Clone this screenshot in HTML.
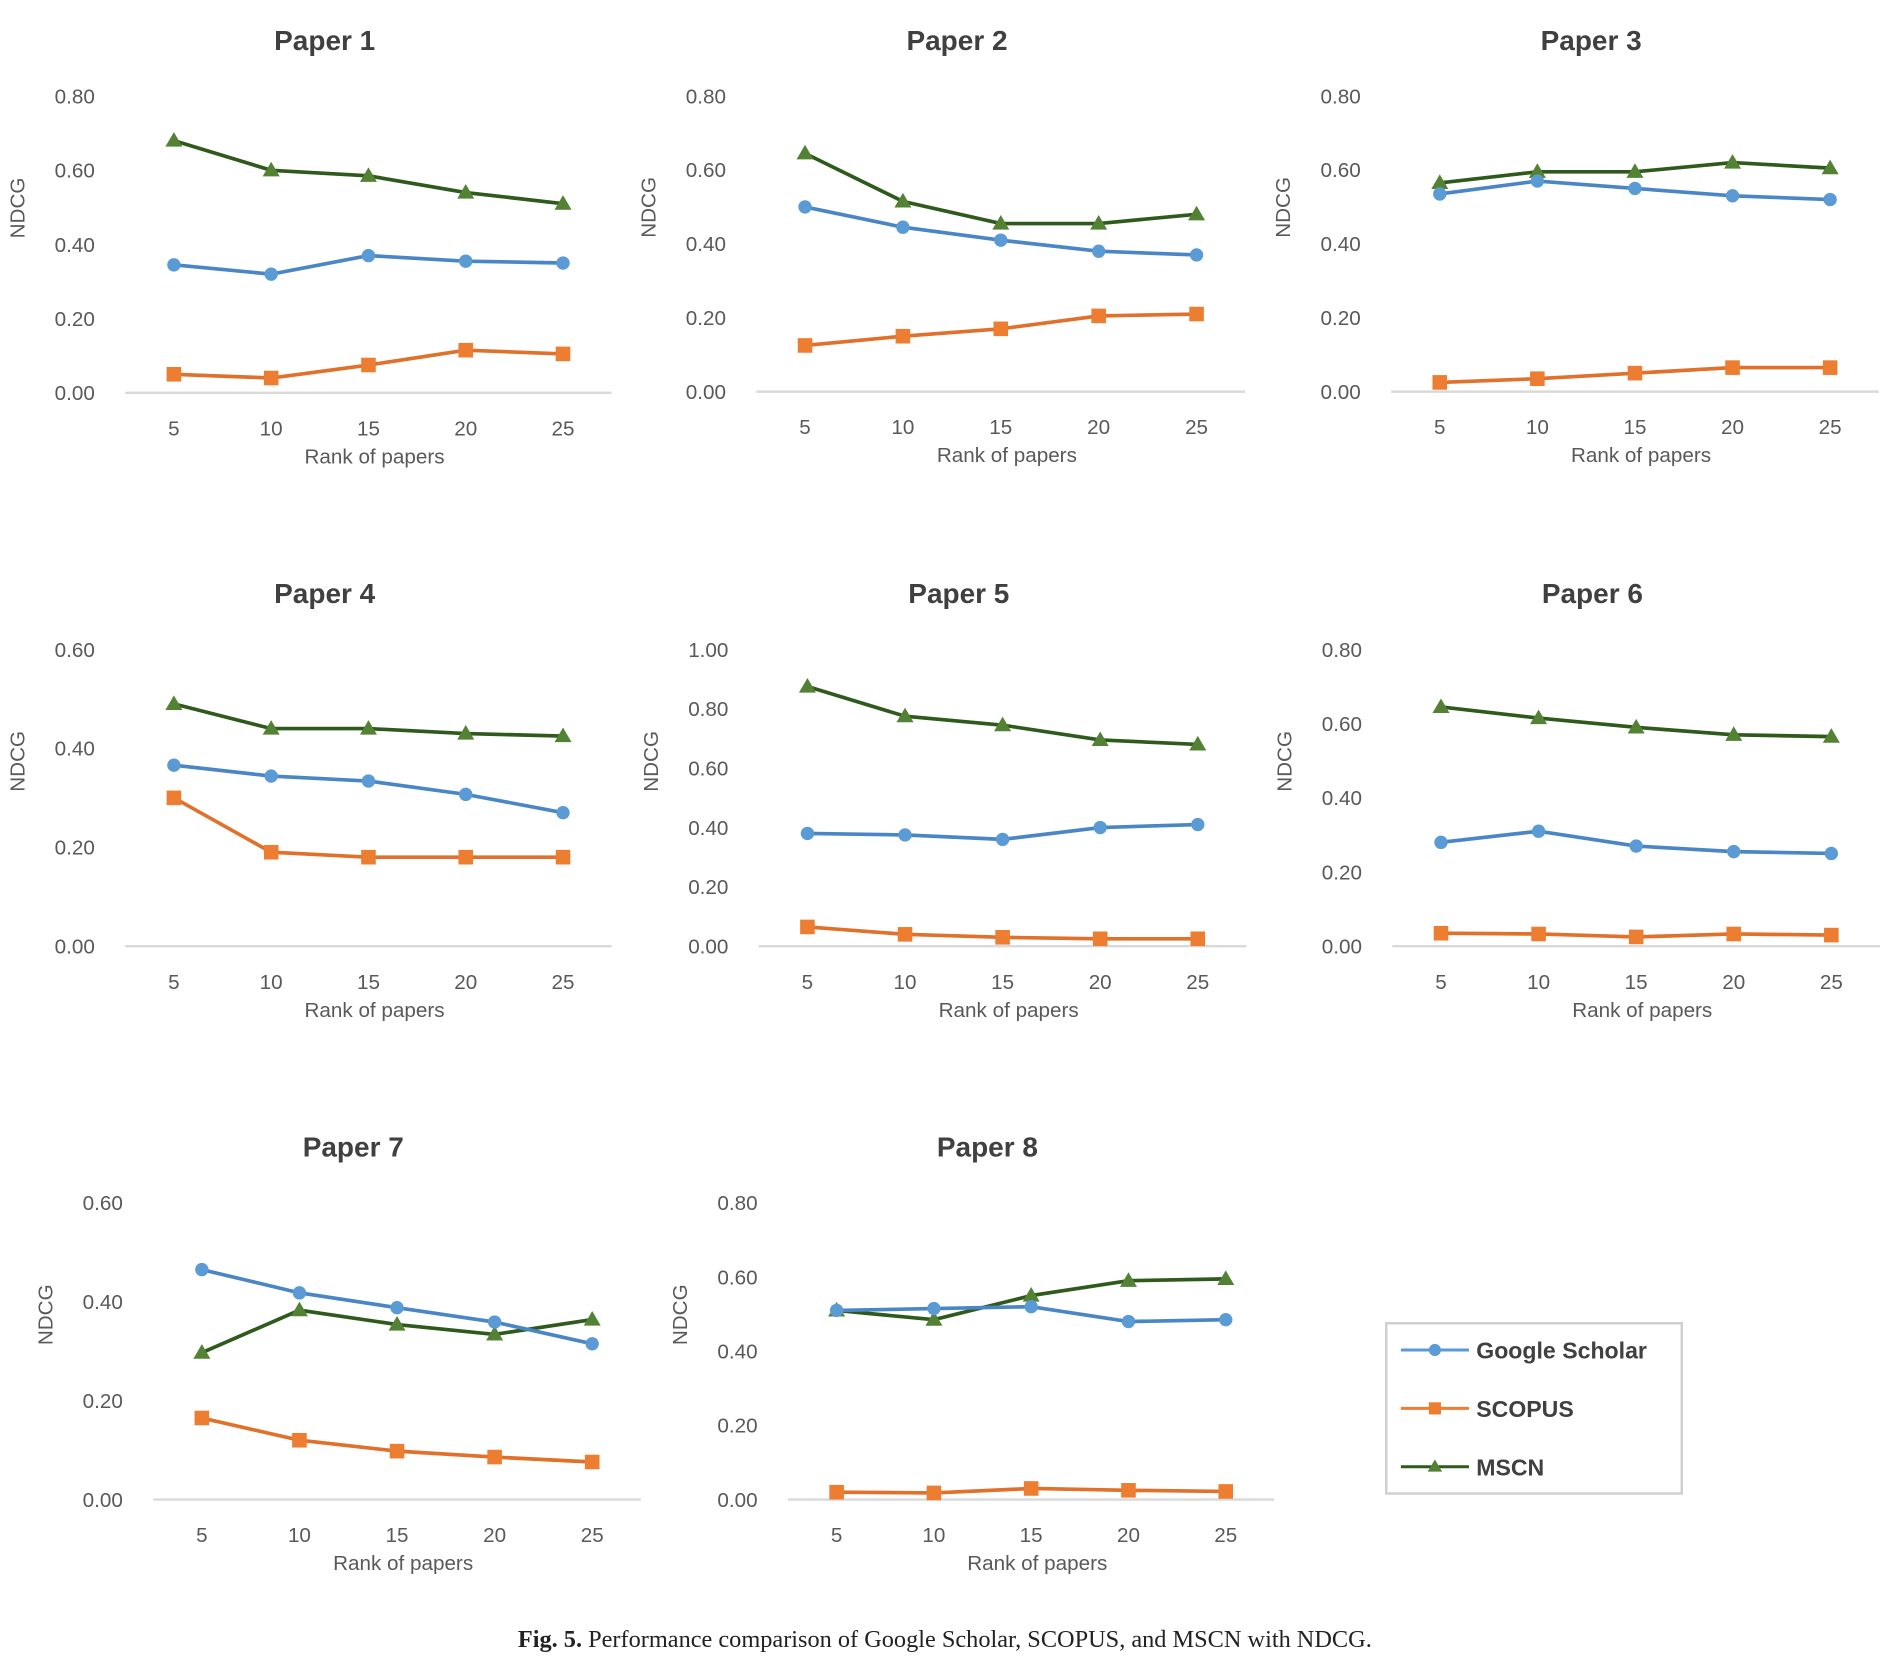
<!DOCTYPE html>
<html><head><meta charset="utf-8"><style>
html,body{margin:0;padding:0;background:#fff;}
svg{display:block;}
text{font-family:"Liberation Sans",sans-serif;}
</style></head><body>
<svg id="fig" width="1897" height="1665" viewBox="0 0 1560 1369" preserveAspectRatio="none" xmlns="http://www.w3.org/2000/svg">
<rect x="0" y="0" width="1560" height="1369" fill="#ffffff"/>
<g id="charts"></g>
<g>
<rect x="1140" y="1088" width="243" height="140" fill="#fff" stroke="#cfcfcf" stroke-width="2"/>
<g><line x1="1152" y1="1110" x2="1208" y2="1110" stroke="#5b9bd5" stroke-width="2.5"/><circle cx="1180" cy="1110" r="5" fill="#5b9bd5"/><text x="1214" y="1117" font-size="19" font-weight="bold" fill="#404040">Google Scholar</text></g>
<g><line x1="1152" y1="1158" x2="1208" y2="1158" stroke="#ed7d31" stroke-width="2.5"/><rect x="1175" y="1153" width="10" height="10" fill="#ed7d31"/><text x="1214" y="1165" font-size="19" font-weight="bold" fill="#404040">SCOPUS</text></g>
<g><line x1="1152" y1="1206" x2="1208" y2="1206" stroke="#2e5a1c" stroke-width="2.5"/><polygon points="1180,1200 1186,1210 1174,1210" fill="#548235"/><text x="1214" y="1213" font-size="19" font-weight="bold" fill="#404040">MSCN</text></g>
</g>
<text x="777" y="1354" text-anchor="middle" font-size="20" fill="#222" style="font-family:'Liberation Serif',serif"><tspan font-weight="bold">Fig. 5.</tspan> Performance comparison of Google Scholar, SCOPUS, and MSCN with NDCG.</text>
</svg>
<script>
const categories = [5, 10, 15, 20, 25];
const titles = ["Paper 1","Paper 2","Paper 3","Paper 4","Paper 5","Paper 6","Paper 7","Paper 8"];
const yMaxes = [0.8,0.8,0.8,0.6,1.0,0.8,0.6,0.8];
const gsValues = [
 [.345,.32,.37,.355,.35],[.50,.445,.41,.38,.37],[.535,.57,.55,.53,.52],
 [.366,.344,.334,.307,.27],[.38,.375,.36,.40,.41],[.28,.31,.27,.255,.25],
 [.465,.418,.388,.359,.315],[.51,.515,.52,.48,.485]];
const scValues = [
 [.05,.04,.075,.115,.105],[.125,.15,.17,.205,.21],[.025,.035,.05,.065,.065],
 [.30,.19,.18,.18,.18],[.065,.04,.03,.025,.025],[.035,.033,.025,.033,.03],
 [.165,.12,.098,.086,.076],[.02,.018,.03,.025,.022]];
const msValues = [
 [.68,.60,.585,.54,.51],[.645,.515,.455,.455,.48],[.565,.595,.595,.62,.605],
 [.49,.44,.44,.43,.425],[.875,.775,.745,.695,.68],[.645,.615,.59,.57,.565],
 [.297,.383,.354,.334,.364],[.51,.485,.55,.59,.595]];

const NS="http://www.w3.org/2000/svg";
const root=document.getElementById('charts');
const layouts=[
 {x0:143,x1:463,y0:323,yt:79},{x0:662,x1:984,y0:322,yt:79},{x0:1184,x1:1505,y0:322,yt:79},
 {x0:143,x1:463,y0:778,yt:534},{x0:664,x1:985,y0:778,yt:534},{x0:1185,x1:1506,y0:778,yt:534},
 {x0:166,x1:487,y0:1233,yt:989},{x0:688,x1:1008,y0:1233,yt:989}];
function mk(tag,attrs,parent){const e=document.createElementNS(NS,tag);for(const k in attrs)e.setAttribute(k,attrs[k]);parent.appendChild(e);return e;}
layouts.forEach((L,i)=>{
 const g=mk('g',{},root);
 
 
 const xs=v=>L.x0+(v-categories[0])/(categories[categories.length-1]-categories[0])*(L.x1-L.x0);
 const ys=v=>L.y0-v/yMaxes[i]*(L.y0-L.yt);
 const cx=(L.x0+L.x1)/2;
 const t=mk('text',{x:cx-36,y:L.yt-38,'text-anchor':'middle','font-size':23,'font-weight':'bold',fill:'#404040'},g);
 t.textContent=titles[i];
 
 
 const ax=mk('line',{x1:L.x0-40,x2:L.x1+40,y1:L.y0,y2:L.y0,stroke:'#d9d9d9','stroke-width':2},g);
 
 
 const steps=Math.round(yMaxes[i]/0.2);
 for(let k=0;k<=steps;k++){
  const v=k*0.2;
  const tl=mk('text',{x:L.x0-65,y:ys(v)+6,'text-anchor':'end','font-size':17,fill:'#595959'},g);
  tl.textContent=v.toFixed(2);
  
  
 }
 categories.forEach(c=>{
  const tl=mk('text',{x:xs(c),y:L.y0+35,'text-anchor':'middle','font-size':17,fill:'#595959'},g);
  tl.textContent=c;
  
  
 });
 const xt=mk('text',{x:cx+5,y:L.y0+58,'text-anchor':'middle','font-size':17,fill:'#595959'},g);
 xt.textContent='Rank of papers';
 
 
 const yx=L.x0-123, yy=(L.y0+L.yt)/2-30;
 const yt=mk('text',{x:yx,y:yy,'text-anchor':'middle','font-size':17,fill:'#595959',transform:`rotate(-90 ${yx} ${yy})`},g);
 yt.textContent='NDCG';
 
 
 const series=[[msValues[i],'#2e5a1c','#548235','tri','mscn'],[gsValues[i],'#4a86c5','#5b9bd5','circ','google-scholar'],[scValues[i],'#e0702a','#ed7d31','sq','scopus']];
 series.forEach(([vals,lc,mc,m,nm])=>{
  const sg=mk('g',{},g);
  
  
  const pts=vals.map((v,j)=>xs(categories[j])+','+ys(v)).join(' ');
  const pl=mk('polyline',{points:pts,fill:'none',stroke:lc,'stroke-width':3},sg);
  
  
  vals.forEach((v,j)=>{
   const x=xs(categories[j]),y=ys(v);let e;
   if(m==='circ')e=mk('circle',{cx:x,cy:y,r:5.5,fill:mc},sg);
   else if(m==='sq')e=mk('rect',{x:x-6,y:y-6,width:12,height:12,fill:mc},sg);
   else e=mk('polygon',{points:`${x},${y-7} ${x+7},${y+5} ${x-7},${y+5}`,fill:mc},sg);
   
   
  });
 });
});
</script>
</body></html>
